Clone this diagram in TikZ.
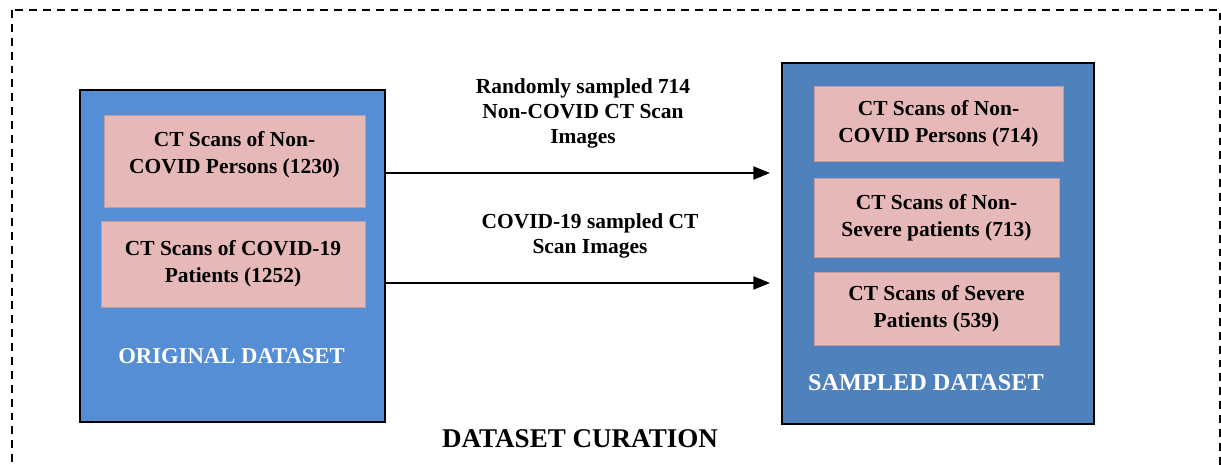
\documentclass[tikz,border=0pt]{standalone}
\usepackage{fontspec}
\setmainfont{Liberation Serif}
\usetikzlibrary{arrows.meta}

\definecolor{origblue}{HTML}{558ED5}
\definecolor{sampblue}{HTML}{4F81BD}
\definecolor{scanpink}{HTML}{E6B9B8}

\begin{document}
\begin{tikzpicture}
  [x=0.02cm,y=-0.02cm,
   every node/.style={font=\fontsize{12.2}{15.3}\selectfont\bfseries,align=center},
   bigbox/.style={draw=black,line width=0.8pt,inner sep=0pt},
   scanbox/.style={fill=scanpink,draw=scanpink!85!black,line width=0.3pt,inner sep=2pt},
   setname/.style={text=white,font=\fontsize{12.9}{15}\selectfont\bfseries},
   flow/.style={line width=0.9pt,-{Triangle[length=9.5pt,width=7.5pt]}},
   flowtext/.style={font=\fontsize{12.2}{14.2}\selectfont\bfseries}]
  \useasboundingbox (0,0) rectangle (1221,465);
  \draw[dashed,line width=0.9pt,dash pattern=on 4.5pt off 3.4pt] (12,10) rectangle (1220,480);

  % original dataset
  \node[bigbox,fill=origblue,minimum width=6.1cm,minimum height=6.64cm] (orig) at (232.5,256) {};
  \node[scanbox,minimum width=5.22cm,minimum height=1.84cm,text depth=0.35cm] (o1) at (234.5,161) {CT Scans of Non-\\COVID Persons (1230)};
  \node[scanbox,minimum width=5.28cm,minimum height=1.72cm] (o2) at (233,264) {CT Scans of COVID-19\\Patients (1252)};
  \node[setname] (olab) at (231.5,356) {ORIGINAL DATASET};

  % sampled dataset
  \node[bigbox,fill=sampblue,minimum width=6.24cm,minimum height=7.22cm] (samp) at (938,243.5) {};
  \node[scanbox,minimum width=4.98cm,minimum height=1.5cm] (s1) at (938.5,123.5) {CT Scans of Non-\\COVID Persons (714)};
  \node[scanbox,minimum width=4.9cm,minimum height=1.58cm] (s2) at (936.5,217.5) {CT Scans of Non-\\Severe patients (713)};
  \node[scanbox,minimum width=4.9cm,minimum height=1.46cm] (s3) at (936.5,308.5) {CT Scans of Severe\\Patients (539)};
  \node[setname,font=\fontsize{13.8}{16}\selectfont\bfseries] (slab) at (926,383) {SAMPLED DATASET};

  % sampling arrows
  \coordinate (e1) at (770,173);
  \coordinate (e2) at (770,283);
  \foreach \to in {e1,e2}
    \draw[flow] (orig.east |- \to) -- (\to);

  \node[flowtext] (l1) at (583,113) {Randomly sampled 714\\Non-COVID CT Scan\\Images};
  \node[flowtext] (l2) at (590,235.5) {COVID-19 sampled CT\\Scan Images};

  \node[font=\fontsize{15.4}{18}\selectfont\bfseries] (title) at (580,439) {DATASET CURATION};
\end{tikzpicture}
\end{document}
